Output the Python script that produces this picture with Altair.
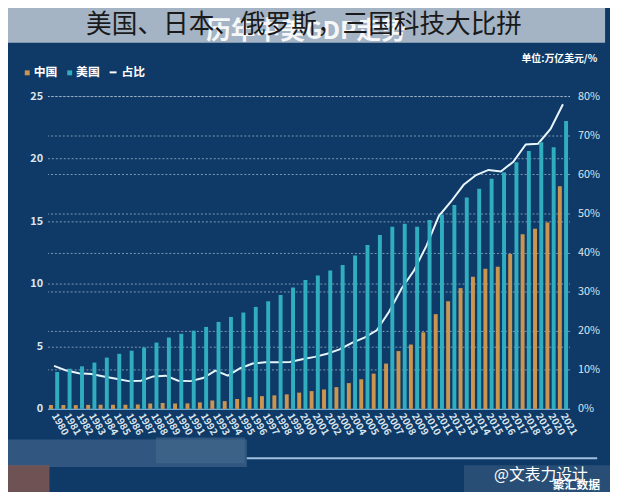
import altair as alt
import pandas as pd

years = list(range(1980, 2022))
china = [0.31, 0.31, 0.30, 0.32, 0.33, 0.33, 0.33, 0.35, 0.43, 0.47,
         0.43, 0.44, 0.52, 0.67, 0.62, 0.79, 0.94, 1.02, 1.08, 1.16,
         1.30, 1.42, 1.55, 1.74, 2.06, 2.37, 2.82, 3.62, 4.62, 5.14,
         6.12, 7.57, 8.60, 9.65, 10.55, 11.20, 11.35, 12.38, 13.95, 14.40,
         14.90, 17.80]
usa = [2.95, 3.20, 3.40, 3.70, 4.10, 4.40, 4.65, 4.90, 5.30, 5.70,
       6.00, 6.25, 6.55, 6.95, 7.35, 7.70, 8.15, 8.60, 9.10, 9.70,
       10.30, 10.65, 11.05, 11.50, 12.25, 13.10, 13.90, 14.55, 14.80, 14.55,
       15.10, 15.50, 16.30, 16.90, 17.60, 18.40, 18.90, 19.70, 20.60, 21.30,
       20.90, 23.00]
ratio = [11.0, 9.8, 9.1, 8.9, 8.3, 7.7, 7.1, 7.2, 8.3, 8.5,
         7.2, 7.1, 7.9, 9.8, 8.5, 10.4, 11.6, 11.9, 11.9, 12.0,
         12.7, 13.3, 14.1, 15.2, 16.9, 18.2, 20.1, 24.9, 30.8, 35.4,
         41.7, 49.3, 53.1, 57.3, 59.8, 61.1, 60.7, 63.2, 67.6, 67.8,
         71.6, 77.9]
series = ["中国", "美国"]
series_colors = ["#c9954f", "#31adc0"]
left_ticks = [0, 5, 10, 15, 20, 25]
right_ticks = [0, 10, 20, 30, 40, 50, 60, 70, 80]

title_text = "美国、日本、俄罗斯，三国科技大比拼"
subtitle_text = "历年中美GDP走势"
unit_text = "单位:万亿美元/%"

FONT = "Noto Sans CJK SC"
BG = "#0f3a67"

bars_df = pd.DataFrame({
    "year": years * 2,
    "series": [series[0]] * len(years) + [series[1]] * len(years),
    "value": china + usa,
})
line_df = pd.DataFrame({"year": years, "ratio": ratio})
one = pd.DataFrame({"k": [0]})

x_enc = alt.X(
    "year:O",
    scale=alt.Scale(paddingInner=0.18, paddingOuter=0.12),
    axis=alt.Axis(
        title=None, labelAngle=60, labelAlign="left", labelBaseline="middle",
        labelColor="#dde6ee", labelFontSize=10, labelFontWeight="bold",
        labelFont=FONT, labelPadding=5, ticks=False,
        domainColor="#6fa8cf", domainWidth=1.5,
    ),
)

line = alt.Chart(line_df).mark_line(color="#e8f6fa", strokeWidth=2).encode(
    x=x_enc,
    y=alt.Y(
        "ratio:Q",
        scale=alt.Scale(domain=[0, 80], nice=False),
        axis=alt.Axis(
            orient="right", title=None, values=right_ticks,
            labelExpr="datum.value + '%'", grid=True, gridDash=[2, 2],
            gridColor="#c9d9ea", gridOpacity=0.6, domain=False, ticks=False,
            labelColor="#dde6ee", labelFontSize=11, labelFont=FONT,
            labelPadding=8,
        ),
    ),
)

bars = alt.Chart(bars_df).mark_bar().encode(
    x=x_enc,
    xOffset=alt.XOffset("series:N", sort=series,
                        scale=alt.Scale(paddingInner=0.37)),
    y=alt.Y(
        "value:Q",
        scale=alt.Scale(domain=[0, 25], nice=False),
        axis=alt.Axis(
            orient="left", title=None, values=left_ticks, grid=True,
            gridDash=[2, 2], gridColor="#c9d9ea", gridOpacity=0.6,
            domain=False, ticks=False, labelColor="#dde6ee",
            labelFontSize=11, labelFontWeight="bold", labelFont=FONT,
            labelPadding=5,
        ),
    ),
    color=alt.Color("series:N", scale=alt.Scale(domain=series, range=series_colors),
                    legend=None),
)


def rect(x1, x2, y1, y2, color, opacity=1.0):
    return alt.Chart(one).mark_rect(color=color, opacity=opacity).encode(
        x=alt.value(x1), x2=alt.value(x2), y=alt.value(y1), y2=alt.value(y2))


def text(t, x, y, size, color, align="left", weight="normal", opacity=1.0):
    return alt.Chart(one).mark_text(
        text=t, fontSize=size, color=color, align=align, baseline="middle",
        font=FONT, fontWeight=weight, opacity=opacity,
    ).encode(x=alt.value(x), y=alt.value(y))


band = rect(-43, 565, -94, -54, "#a9b8c8", 0.97)
sub = text(subtitle_text, 262, -66, 25, "#ffffff", align="center", weight="bold", opacity=0.9)
ttl = text(title_text, 260, -72, 26, "#1a1a1a", align="center")
unit = text(unit_text, 557, -37, 10, "#ffffff", align="right", weight="bold")

leg = [
    rect(-23, -18, -26, -21, series_colors[0]),
    text(series[0], -14, -24, 12, "#ffffff", weight="bold"),
    rect(20, 25, -26, -21, series_colors[1]),
    text(series[1], 29, -24, 12, "#ffffff", weight="bold"),
    rect(63, 70, -25, -23, "#ffffff"),
    text("占比", 75, -24, 12, "#ffffff", weight="bold"),
]

bottom = [
    rect(-48, 202, 348, 376, "#3d6288", 0.75),
    rect(110, 200, 346, 372, "#44698e", 0.6),
    rect(-45, 2, 374, 403, "#7a5652", 0.9),
    rect(202, 557, 366, 368, "#9fc0de"),
    rect(422, 570, 374, 406, "#2b5177", 0.9),
    text("@文表力设计", 500, 384, 16, "#ffffff", align="center"),
    text("聚汇数据", 536, 394, 12, "#ffffff", align="center", weight="bold"),
]

chart = alt.layer(
    line, bars, band, sub, ttl, unit, *leg, *bottom
).resolve_scale(y="independent").properties(
    width=529, height=317,
    padding={"left": 40, "top": 86, "right": 41, "bottom": 81},
    autosize=alt.AutoSizeParams(type="none"),
    background=BG,
).configure_view(stroke=None)

chart.save("out.html", embed_options={"renderer": "svg", "actions": False})
